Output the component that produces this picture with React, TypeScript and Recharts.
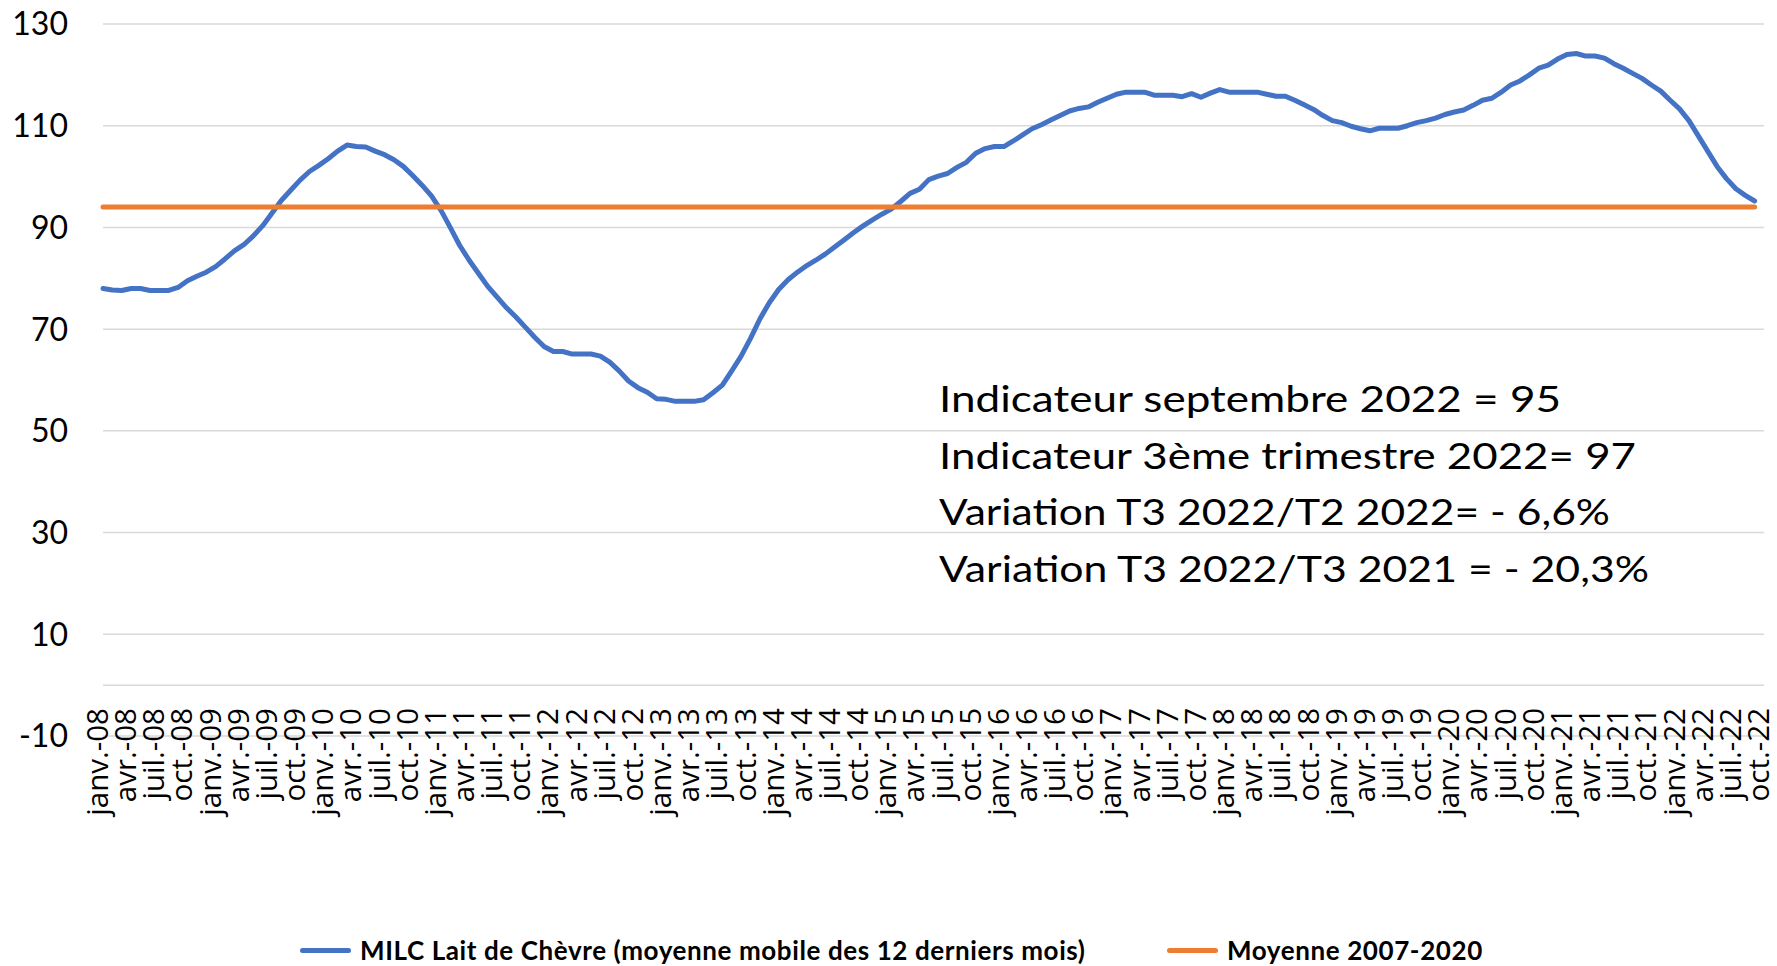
import { LineChart, Line, XAxis, YAxis, CartesianGrid, ReferenceLine, Legend } from "recharts";

// libellés des mois (axe des catégories : janv.-08 -> oct.-22)
const MOIS = ["janv.", "févr.", "mars", "avr.", "mai", "juin", "juil.", "août", "sept.", "oct.", "nov.", "déc."];
const ANNEES = ["08", "09", "10", "11", "12", "13", "14", "15", "16", "17", "18", "19", "20", "21", "22"];
const NB_MOIS = 178;

// MILC lait de chèvre, moyenne mobile 12 mois (janv.-08 -> sept.-22)
const MILC = [
  78.0, 77.7, 77.6, 78.0, 78.0, 77.6, 77.6, 77.6, 78.2, 79.5, 80.4, 81.2,
  82.3, 83.8, 85.4, 86.6, 88.3, 90.3, 92.8, 95.3, 97.3, 99.3, 101.0, 102.2,
  103.5, 105.0, 106.2, 105.9, 105.8, 105.0, 104.3, 103.3, 102.0, 100.2, 98.3, 96.2,
  93.4, 90.0, 86.5, 83.6, 81.0, 78.4, 76.3, 74.2, 72.4, 70.4, 68.4, 66.6,
  65.6, 65.6, 65.1, 65.1, 65.1, 64.7, 63.5, 61.8, 59.8, 58.5, 57.6, 56.3,
  56.2, 55.8, 55.8, 55.8, 56.1, 57.5, 59.0, 61.8, 64.7, 68.2, 72.0, 75.2,
  77.8, 79.7, 81.2, 82.5, 83.6, 84.8, 86.2, 87.6, 89.0, 90.3, 91.5, 92.6,
  93.6, 95.1, 96.7, 97.5, 99.4, 100.1, 100.6, 101.8, 102.8, 104.6, 105.5, 105.9,
  105.9, 107.0, 108.2, 109.4, 110.2, 111.1, 112.0, 112.9, 113.4, 113.7, 114.6, 115.4,
  116.2, 116.6, 116.6, 116.6, 116.0, 116.0, 116.0, 115.7, 116.3, 115.6, 116.4, 117.1,
  116.6, 116.6, 116.6, 116.6, 116.2, 115.8, 115.8, 115.0, 114.1, 113.2, 112.0, 111.0,
  110.6, 109.9, 109.4, 109.0, 109.5, 109.5, 109.5, 110.0, 110.6, 111.0, 111.5, 112.2,
  112.7, 113.1, 114.0, 115.0, 115.4, 116.6, 118.0, 118.8, 120.0, 121.3, 121.9, 123.1,
  124.0, 124.2, 123.7, 123.7, 123.3, 122.2, 121.3, 120.3, 119.3, 118.0, 116.8, 115.0,
  113.3, 111.0, 108.0, 105.0, 102.0, 99.6, 97.6, 96.3, 95.2,
];
const MOYENNE_2007_2020 = 94;

const Y_TICKS = [-10, 10, 30, 50, 70, 90, 110, 130];

const INDICATEURS = [
  "Indicateur septembre 2022 = 95",
  "Indicateur 3ème trimestre 2022= 97",
  "Variation T3 2022/T2 2022= - 6,6%",
  "Variation T3 2022/T3 2021 = - 20,3%",
];
const INDICATEURS_LARGEUR = [622, 697, 671, 710];

const NOM_MILC = "MILC Lait de Chèvre (moyenne mobile des 12 derniers mois)";
const NOM_MOYENNE = "Moyenne 2007-2020";

const BLEU = "#4472C4";
const ORANGE = "#ED7D31";
const GRILLE = "#D9D9D9";

const W = 1777;
const H = 966;
const PLOT_BOTTOM = 736;

const categories = ANNEES.flatMap((a) => MOIS.map((m) => `${m}-${a}`)).slice(0, NB_MOIS);
const data = categories.map((mois, i) => ({
  mois,
  milc: i < MILC.length ? MILC[i] : null,
  moyenne: i < MILC.length ? MOYENNE_2007_2020 : null,
}));

function MoisTick(props: any) {
  const { x, payload } = props;
  return (
    <g transform={`translate(${x},${PLOT_BOTTOM})`}>
      <text
        x={28}
        y={0}
        dy={5}
        transform="rotate(-90)"
        textAnchor="end"
        fontFamily="'Open Sans', sans-serif"
        fontSize={29.5}
        fill="#000"
      >
        {payload.value}
      </text>
    </g>
  );
}

function Legende() {
  const item = (left: number, color: string, label: string) => (
    <div style={{ position: "absolute", left, top: 0, display: "flex", alignItems: "center", height: 40 }}>
      <div style={{ width: 51, height: 5, borderRadius: 3, background: color, marginRight: 9 }} />
      <span
        style={{
          fontFamily: "Lato, sans-serif",
          fontWeight: 700,
          fontSize: 26,
          letterSpacing: 0.6,
          color: "#000",
          whiteSpace: "nowrap",
        }}
      >
        {label}
      </span>
    </div>
  );
  return (
    <div style={{ position: "relative", width: W, height: 40 }}>
      {item(300, BLEU, NOM_MILC)}
      {item(1167, ORANGE, NOM_MOYENNE)}
    </div>
  );
}

export default function App() {
  return (
    <div style={{ position: "absolute", left: 0, top: 0, width: W, height: H, background: "#fff" }}>
      <LineChart width={W} height={H} data={data} margin={{ top: 24, right: 13, left: 0, bottom: 0 }}>
        <CartesianGrid vertical={false} stroke={GRILLE} strokeWidth={1.5} />
        <XAxis
          dataKey="mois"
          interval={2}
          height={H - PLOT_BOTTOM}
          axisLine={false}
          tickLine={false}
          tick={<MoisTick />}
        />
        <YAxis
          type="number"
          domain={[-10, 130]}
          ticks={Y_TICKS}
          width={103}
          axisLine={false}
          tickLine={false}
          tickSize={0}
          tickMargin={35}
          tick={{ fill: "#000", fontSize: 32, fontFamily: "Lato, sans-serif" }}
        />
        <ReferenceLine y={0} stroke={GRILLE} strokeWidth={1.5} />
        <Line
          dataKey="milc"
          name={NOM_MILC}
          stroke={BLEU}
          strokeWidth={5}
          dot={false}
          activeDot={false}
          strokeLinejoin="round"
          strokeLinecap="round"
          isAnimationActive={false}
        />
        <Line
          dataKey="moyenne"
          name={NOM_MOYENNE}
          stroke={ORANGE}
          strokeWidth={5}
          dot={false}
          activeDot={false}
          strokeLinecap="round"
          isAnimationActive={false}
        />
        {INDICATEURS.map((t, i) => (
          <text
            key={t}
            x={939}
            y={412 + i * 56.7}
            fontFamily="Lato, sans-serif"
            fontSize={37}
            fill="#000"
            textLength={INDICATEURS_LARGEUR[i]}
            lengthAdjust="spacingAndGlyphs"
          >
            {t}
          </text>
        ))}
        <Legend
          layout="horizontal"
          verticalAlign="middle"
          align="center"
          wrapperStyle={{ top: 930, left: 0, width: W, height: 40 }}
          content={() => <Legende />}
        />
      </LineChart>
    </div>
  );
}
